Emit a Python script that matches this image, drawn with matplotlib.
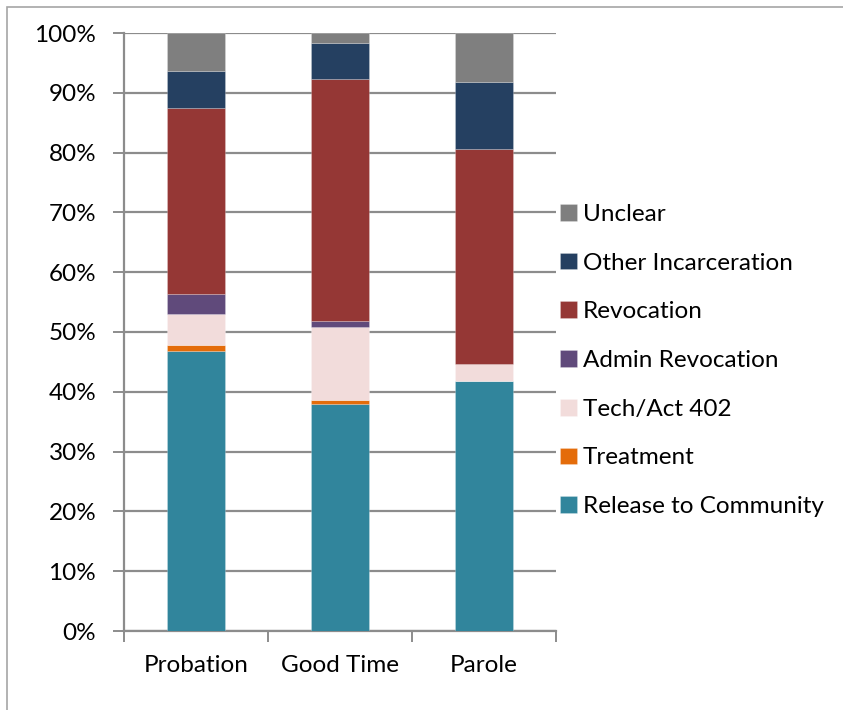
import matplotlib
matplotlib.use("Agg")
import matplotlib.pyplot as plt
from matplotlib.patches import Rectangle
import numpy as np

plt.rcParams['font.family'] = ['Lato', 'DejaVu Sans']

categories = ["Probation", "Good Time", "Parole"]
series_names = ["Release to Community", "Treatment", "Tech/Act 402",
                "Admin Revocation", "Revocation", "Other Incarceration", "Unclear"]
release = [46.9, 37.9, 41.8]
treatment = [0.9, 0.8, 0.0]
tech_act = [5.2, 12.2, 2.8]
admin_rev = [3.3, 0.9, 0.0]
revocation = [31.1, 40.5, 36.0]
other_inc = [6.3, 6.1, 11.2]
unclear = [6.3, 1.6, 8.2]
colors = ["#31859C", "#E46C0A", "#F2DCDB", "#604A7B", "#953735", "#254061", "#7F7F7F"]
y_ticks = list(range(0, 101, 10))

series = [release, treatment, tech_act, admin_rev, revocation, other_inc, unclear]

W, H = 843, 710
FS = 17.5
fig = plt.figure(figsize=(W / 100, H / 100), dpi=100)
ax = fig.add_axes([124 / W, (H - 631) / H, (556 - 124) / W, (631 - 33) / H])

# outer chart frame
fig.patches.append(Rectangle((7 / W, -0.1), 2, (H - 7) / H + 0.1, transform=fig.transFigure,
                             fill=False, edgecolor="#A6A6A6", linewidth=1.2))

x = np.arange(len(categories))
bottom = np.zeros(len(categories))
handles = []
for name, vals, c in zip(series_names, series, colors):
    vals = np.array(vals)
    b = ax.bar(x, vals, 0.4, bottom=bottom, color=c, label=name,
               edgecolor=(1, 1, 1, 0.25), linewidth=0.6, zorder=3)
    handles.append(b)
    bottom += vals

ax.set_xlim(-0.5, 2.5)
ax.set_ylim(0, 100)
ax.set_yticks(y_ticks)
ax.set_yticklabels([f"{t}%" for t in y_ticks])
ax.yaxis.grid(True, color="#8C8C8C", linewidth=1.6, zorder=0)
ax.set_axisbelow(True)

ax.set_xticks(x)
ax.set_xticklabels(categories)
ax.set_xticks([-0.5, 0.5, 1.5, 2.5], minor=True)
ax.tick_params(axis="x", which="major", length=0, pad=17, labelsize=FS)
ax.tick_params(axis="x", which="minor", length=8, width=1.4, color="#8C8C8C", direction="out")
ax.tick_params(axis="y", length=8, width=1.4, color="#8C8C8C", direction="out", pad=12, labelsize=FS)

for s in ["top", "right"]:
    ax.spines[s].set_visible(False)
for s in ["left", "bottom"]:
    ax.spines[s].set_color("#8C8C8C")
    ax.spines[s].set_linewidth(1.6)

fs_px = FS * 100 / 72
leg = ax.legend(handles[::-1], series_names[::-1], loc="center left",
                bbox_to_anchor=((560 - 0.4 * fs_px) / W, (H - 360.5) / H),
                bbox_transform=fig.transFigure, frameon=False, fontsize=FS,
                handlelength=0.68, handleheight=0.68, handletextpad=0.27,
                labelspacing=1.14, borderaxespad=0)

fig.savefig("out.png", dpi=100)
